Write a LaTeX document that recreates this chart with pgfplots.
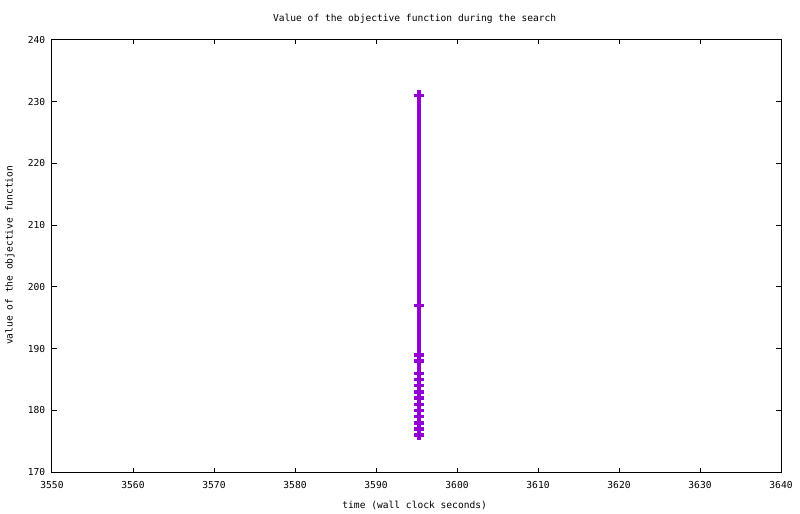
\documentclass[border=0pt]{standalone}
\usepackage{fontspec}
\setmainfont{DejaVu Sans Mono}
\usepackage{pgfplots}
\pgfplotsset{compat=1.18}
\begin{document}
\fontsize{7.2pt}{8.6pt}\selectfont
\begin{tikzpicture}
\path (0,0) rectangle (600pt,385.5pt);
\begin{axis}[
  at={(39pt,31.3pt)}, anchor=south west,
  scale only axis, width=546.75pt, height=324.4pt,
  xmin=3550, xmax=3640, ymin=170, ymax=240,
  xtick={3550,3560,...,3640}, ytick={170,180,...,240},
  tick align=inside, major tick length=3.5pt,
  tick style={black, line width=0.75pt},
  axis line style={line width=0.75pt},
  /pgf/number format/assume math mode=true,
  /pgf/number format/1000 sep={},
  tick label style={font=\fontsize{7.2pt}{8.6pt}\selectfont},
  xticklabel style={yshift=-4.5pt},
  yticklabel style={xshift=-2.5pt},
]
\addplot[color={rgb,255:red,148;green,0;blue,211}, line width=2.6pt, mark=+, mark size=3.9pt, mark options={line width=2.6pt}]
coordinates {
(3595.3,231) (3595.3,197) (3595.3,189) (3595.3,188) (3595.3,186) (3595.3,185) (3595.3,184) (3595.3,183) (3595.3,182) (3595.3,181) (3595.3,180) (3595.3,179) (3595.3,178) (3595.3,177) (3595.3,176)
};
\end{axis}
\node at (311pt,371.25pt) {Value of the objective function during the search};
\node at (311pt,6.75pt) {time (wall clock seconds)};
\node[rotate=90] at (7.5pt,194pt) {value of the objective function};
\end{tikzpicture}
\end{document}
